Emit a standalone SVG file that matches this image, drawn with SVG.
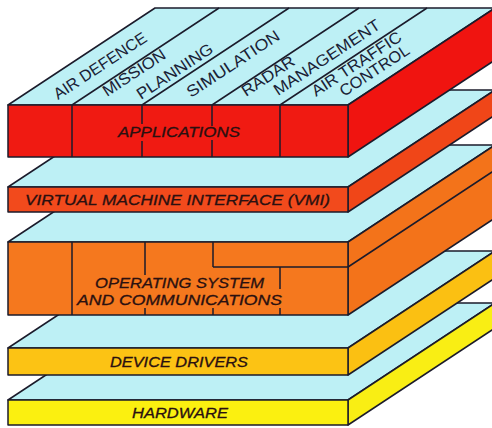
<svg xmlns="http://www.w3.org/2000/svg" width="492" height="428" viewBox="0 0 492 428">
<style>
.ln{stroke:#1b1b2b;stroke-width:1.5;stroke-linejoin:round;fill:none}
.top{fill:#bdf0f5;stroke:#1b1b2b;stroke-width:1.5;stroke-linejoin:round}
.fc{stroke:#1b1b2b;stroke-width:1.5;stroke-linejoin:round}
.lab{font-family:"Liberation Sans",Arial,sans-serif;font-style:italic;font-size:15px;fill:#2a1010;stroke:#2a1010;stroke-width:0.3}
.tl{font-family:"Liberation Sans",Arial,sans-serif;font-size:16px;fill:#1a2236}
</style>
<rect width="492" height="428" fill="#ffffff"/>

<g id="hardware">
<polygon class="top" points="8,400 155,303 495,303 348,400"/>
<polygon class="fc" fill="#f9ee14" points="348,400 495,303 495,328 348,425"/>
<rect class="fc" fill="#fbf010" x="8" y="400" width="340" height="25"/>
<text class="lab" x="132" y="418" textLength="96" lengthAdjust="spacingAndGlyphs">HARDWARE</text>
</g>

<g id="device-drivers">
<polygon class="top" points="8,348 155,251 495,251 348,348"/>
<polygon class="fc" fill="#fbc012" points="348,348 495,251 495,278 348,375"/>
<rect class="fc" fill="#fcc314" x="8" y="348" width="340" height="27"/>
<text class="lab" x="110" y="367" textLength="138" lengthAdjust="spacingAndGlyphs">DEVICE DRIVERS</text>
</g>

<g id="operating-system">
<polygon class="top" points="8,242 155,145 495,145 348,242"/>
<polygon class="fc" fill="#f3731a" points="348,242 495,145 495,218 348,315"/>
<rect class="fc" fill="#f5781e" x="8" y="242" width="340" height="73"/>
<path class="ln" d="M72,242V315 M145,242V275 M145,308V315 M213,242V267 M213,308V315 M213,267H348 M280,267V289 M280,308V315 M348,267L495,170"/>
<text class="lab" x="95" y="288" textLength="169" lengthAdjust="spacingAndGlyphs">OPERATING SYSTEM</text>
<text class="lab" x="77" y="305" textLength="205" lengthAdjust="spacingAndGlyphs">AND COMMUNICATIONS</text>
</g>

<g id="vmi">
<polygon class="top" points="8,187 155,90 495,90 348,187"/>
<polygon class="fc" fill="#f04618" points="348,187 495,90 495,115 348,212"/>
<rect class="fc" fill="#f24a1c" x="8" y="187" width="340" height="25"/>
<text class="lab" x="25" y="205" font-size="15.5" textLength="305" lengthAdjust="spacingAndGlyphs">VIRTUAL MACHINE INTERFACE (VMI)</text>
</g>

<g id="applications">
<polygon class="top" points="8,105 155,8 495,8 348,105"/>
<polygon class="fc" fill="#f01410" points="348,105 495,8 495,60 348,157"/>
<rect class="fc" fill="#f01a12" x="8" y="105" width="340" height="52"/>
<path class="ln" d="M72,105V157 M142,105V124 M142,141V157 M212,105V126 M212,140V157 M280,105V157 M72,105L219,8 M142,105L289,8 M212,105L359,8 M280,105L427,8"/>
<text class="lab" x="118" y="137" textLength="122" lengthAdjust="spacingAndGlyphs">APPLICATIONS</text>
<text class="tl" transform="translate(58,100) rotate(-33.4)" textLength="108" lengthAdjust="spacingAndGlyphs">AIR DEFENCE</text>
<text class="tl" transform="translate(107,97) rotate(-33.4)" textLength="72" lengthAdjust="spacingAndGlyphs">MISSION</text>
<text class="tl" transform="translate(141,100) rotate(-33.4)" textLength="88" lengthAdjust="spacingAndGlyphs">PLANNING</text>
<text class="tl" transform="translate(191,98) rotate(-33.4)" textLength="108" lengthAdjust="spacingAndGlyphs">SIMULATION</text>
<text class="tl" transform="translate(246,97) rotate(-33.4)" textLength="60" lengthAdjust="spacingAndGlyphs">RADAR</text>
<text class="tl" transform="translate(278,96) rotate(-33.4)" textLength="124" lengthAdjust="spacingAndGlyphs">MANAGEMENT</text>
<text class="tl" transform="translate(316,97) rotate(-33.4)" textLength="104" lengthAdjust="spacingAndGlyphs">AIR TRAFFIC</text>
<text class="tl" transform="translate(344,97) rotate(-33.4)" textLength="80" lengthAdjust="spacingAndGlyphs">CONTROL</text>
</g>
</svg>
